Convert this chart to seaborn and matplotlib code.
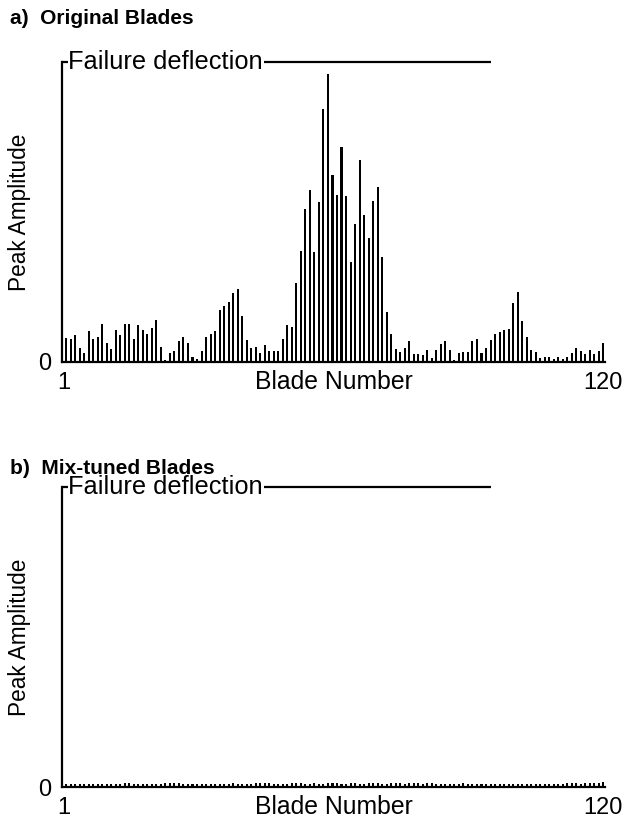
import matplotlib
matplotlib.use("Agg")
import matplotlib.pyplot as plt
import seaborn as sns
import numpy as np
import pandas as pd

sns.set_style("white")
plt.rcParams['font.family'] = ['Liberation Sans', 'DejaVu Sans']
for k in ["text.color", "axes.labelcolor", "xtick.color", "ytick.color"]:
    plt.rcParams[k] = "black"

blades = list(range(1, 121))
failure_level = 300

original_amp = [
    24, 23, 27, 14, 9, 31, 23, 25, 38, 19,
    13, 32, 27, 38, 38, 23, 37, 32, 28, 34,
    42, 15, 2, 9, 11, 21, 25, 19, 5, 3,
    11, 25, 28, 31, 52, 56, 60, 69, 73, 46,
    22, 14, 15, 9, 17, 11, 11, 11, 23, 37,
    35, 79, 111, 153, 172, 110, 160, 253, 288, 187,
    167, 215, 166, 100, 138, 202, 147, 124, 161, 175,
    105, 50, 28, 13, 10, 14, 21, 8, 8, 7,
    12, 4, 12, 18, 21, 12, 2, 9, 10, 10,
    21, 23, 9, 14, 22, 28, 30, 32, 33, 59,
    70, 41, 25, 12, 10, 4, 5, 5, 3, 5,
    3, 5, 9, 14, 11, 8, 12, 8, 11, 19,
]

tuned_amp = [
    3, 3, 3, 3, 3, 3, 3, 3, 3, 3, 3, 3, 3, 4, 4, 3, 3, 3, 3, 3,
    3, 3, 4, 4, 4, 4, 3, 3, 3, 3, 3, 3, 3, 3, 3, 3, 3, 4, 3, 3,
    3, 3, 4, 4, 4, 4, 3, 3, 3, 3, 4, 4, 4, 3, 3, 4, 3, 3, 4, 4,
    4, 3, 3, 4, 4, 3, 3, 4, 4, 4, 3, 3, 4, 4, 4, 3, 4, 4, 4, 3,
    4, 4, 3, 3, 3, 3, 3, 3, 4, 3, 3, 3, 3, 3, 3, 3, 3, 3, 3, 3,
    3, 3, 3, 3, 3, 3, 3, 3, 3, 3, 3, 4, 4, 4, 3, 4, 4, 4, 4, 5,
]

titles = ["a)  Original Blades", "b)  Mix-tuned Blades"]
xtick_labels = ["1", "120"]

fig = plt.figure(figsize=(6.28, 8.19), dpi=100)
W, H = 628, 819

def add_panel(top_px, amps, title, title_y):
    left, right, bottom = 62, 605, top_px + 300
    ax = fig.add_axes([left / W, 1 - bottom / H, (right - left) / W, 300 / H])
    df = pd.DataFrame({"blade": blades, "amp": amps})
    sns.barplot(data=df, x="blade", y="amp", color="black", saturation=1,
                width=0.45, ax=ax, linewidth=0)
    ax.set_xlim(-0.9, 119.35)
    ax.set_ylim(0, failure_level)
    for s in ["top", "right"]:
        ax.spines[s].set_visible(False)
    for s in ["left", "bottom"]:
        ax.spines[s].set_linewidth(1.6)
        ax.spines[s].set_color("black")
    ax.set_xticks([-0.6, 119])
    ax.set_xticklabels(xtick_labels, fontsize=17)
    ax.set_yticks([0])
    ax.set_yticklabels(["0"], fontsize=17)
    ax.tick_params(axis="both", length=0)
    ax.tick_params(axis="x", pad=7)
    ax.tick_params(axis="y", pad=8)
    ax.set_xlabel("Blade Number", fontsize=17.8)
    ax.xaxis.set_label_coords(0.5, -0.028)
    ax.set_ylabel("Peak Amplitude", fontsize=16.3)
    ax.yaxis.set_label_coords(-0.057, 0.5)
    # failure deflection marker
    ax.hlines(failure_level, -0.9, 0.4, color="black", lw=1.6, clip_on=False)
    ax.text(0.45, failure_level, "Failure deflection", fontsize=18.3,
            ha="left", va="center", clip_on=False)
    ax.hlines(failure_level, 43.9, 94.2, color="black", lw=1.6, clip_on=False)
    fig.text(10 / W, 1 - title_y / H, title, fontsize=15, fontweight="bold",
             ha="left", va="center")
    return ax

add_panel(62, original_amp, titles[0], 18)
add_panel(487, tuned_amp, titles[1], 468)

fig.savefig("out.png", dpi=100)
